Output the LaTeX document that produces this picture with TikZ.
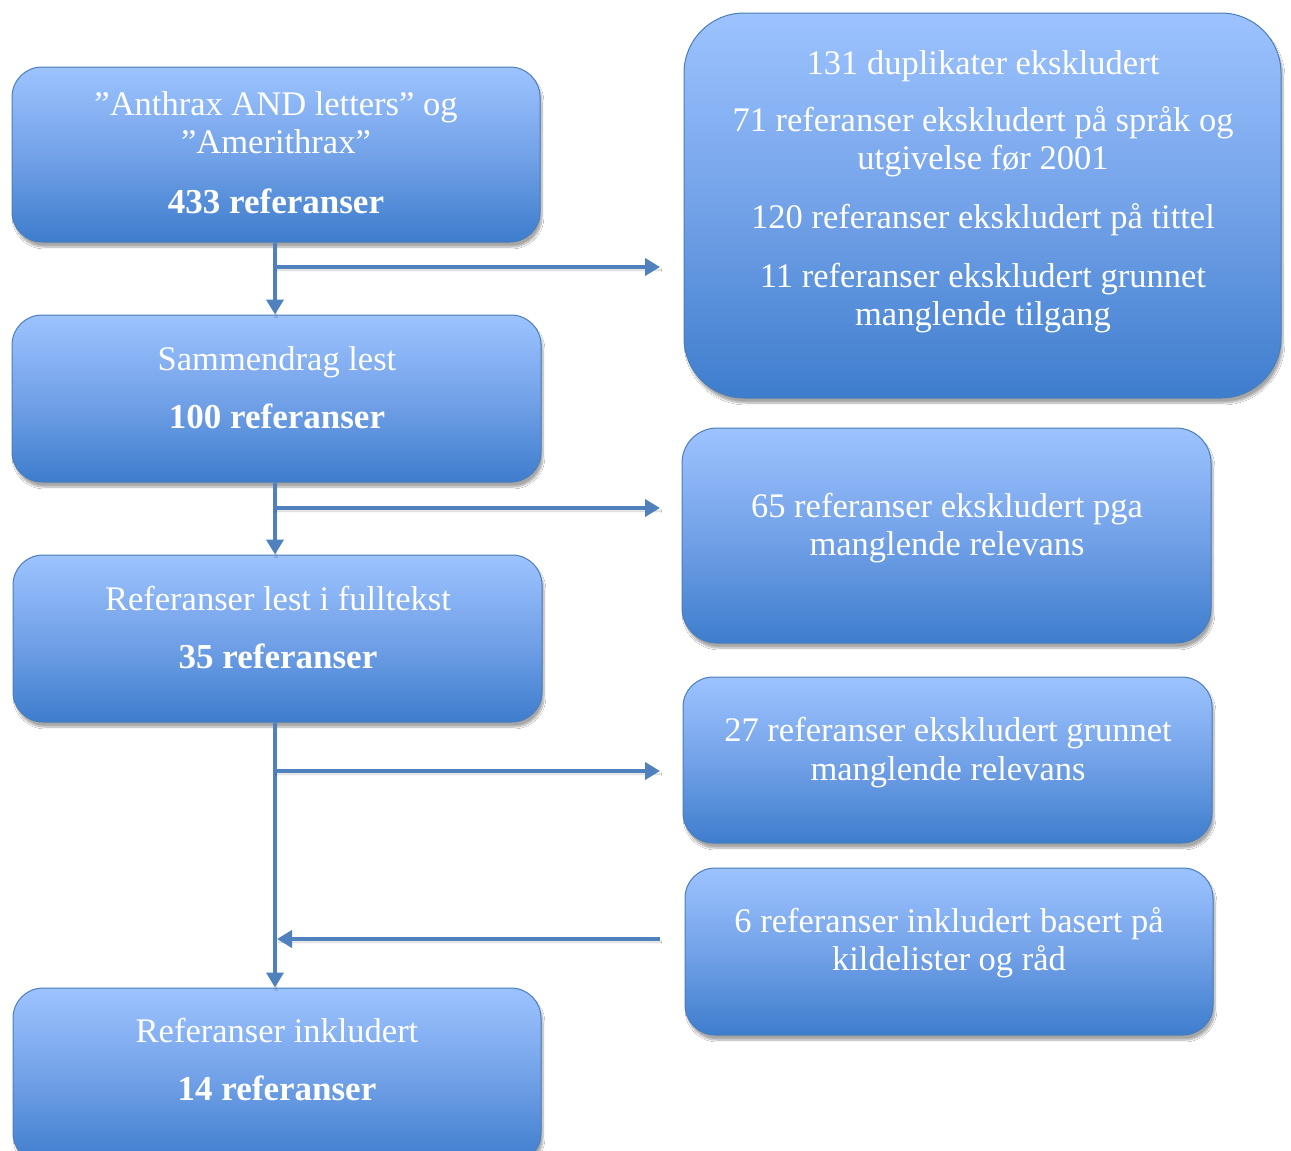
\documentclass[tikz,border=0pt]{standalone}
\usepackage{fontspec}
\setmainfont{Liberation Serif}
\usetikzlibrary{arrows.meta,shadows,shadows.blur}
\definecolor{topblue}{RGB}{157,195,255}
\definecolor{midblue}{RGB}{115,162,232}
\definecolor{botblue}{RGB}{62,125,205}
\definecolor{edgeblue}{RGB}{74,126,187}
\definecolor{arrblue}{RGB}{79,129,189}
\tikzset{
  box/.style={draw=edgeblue, line width=1pt, rectangle, rounded corners=30pt,
    top color=topblue, bottom color=botblue, middle color=midblue,
    blur shadow={shadow xshift=2pt, shadow yshift=-5pt, shadow blur steps=8, shadow opacity=35},
    inner sep=0pt},
  txt/.style={text=white, font=\fontsize{34.5}{40}\selectfont, align=center, inner sep=0pt, anchor=base},
  btxt/.style={txt, font=\fontsize{35}{40}\selectfont\bfseries},
  arr/.style={draw=arrblue, line width=4.5pt, -{Triangle[length=15pt,width=17pt]},
    blur shadow={shadow xshift=1pt, shadow yshift=-3pt, shadow opacity=25}},
  ln/.style={draw=arrblue, line width=4.5pt}
}
\begin{document}
\begin{tikzpicture}[x=1pt,y=-1pt]
\useasboundingbox[fill=white] (0,0) rectangle (1291,1151);
% left boxes
\node[box, minimum width=528pt, minimum height=175pt] (b1) at (276,154.5) {};
\node[box, minimum width=529pt, minimum height=167pt] (b2) at (276.5,398.5) {};
\node[box, minimum width=529pt, minimum height=167pt] (b3) at (277.5,638.5) {};
\node[box, minimum width=528pt, minimum height=175pt] (b4) at (277,1075.5) {};
% right boxes
\node[box, rounded corners=60pt, minimum width=597pt, minimum height=385pt] (r1) at (982.5,205.5) {};
\node[box, rounded corners=35pt, minimum width=529pt, minimum height=215pt] (r2) at (946.5,535.5) {};
\node[box, minimum width=529pt, minimum height=166pt] (r3) at (947.5,760) {};
\node[box, minimum width=528pt, minimum height=167pt] (r4) at (949,951.5) {};
% texts
\node[txt] (t11) at (276,115) {”Anthrax AND letters” og};
\node[txt] (t12) at (276,153) {”Amerithrax”};
\node[btxt] (t13) at (276,213) {433 referanser};
\node[txt] (t21) at (277,370) {Sammendrag lest};
\node[btxt] (t22) at (277,428) {100 referanser};
\node[txt] (t31) at (278,610) {Referanser lest i fulltekst};
\node[btxt] (t32) at (278,668) {35 referanser};
\node[txt] (t41) at (277,1042) {Referanser inkludert};
\node[btxt] (t42) at (277,1100) {14 referanser};
\node[txt] (u1) at (983,74) {131 duplikater ekskludert};
\node[txt] (u2) at (983,131) {71 referanser ekskludert på språk og};
\node[txt] (u3) at (983,169) {utgivelse før 2001};
\node[txt] (u4) at (983,228) {120 referanser ekskludert på tittel};
\node[txt] (u5) at (983,287) {11 referanser ekskludert grunnet};
\node[txt] (u6) at (983,325) {manglende tilgang};
\node[txt] (v1) at (947,517) {65 referanser ekskludert pga};
\node[txt] (v2) at (947,555) {manglende relevans};
\node[txt] (w1) at (948,741) {27 referanser ekskludert grunnet};
\node[txt] (w2) at (948,780) {manglende relevans};
\node[txt] (x1) at (949,932) {6 referanser inkludert basert på};
\node[txt] (x2) at (949,970) {kildelister og råd};
% connector ends
\coordinate (e1) at (660,267);
\coordinate (e2) at (660,508);
\coordinate (e3) at (660,771);
\coordinate (e4) at (660,939);
\coordinate (m4) at (277,939);
% connectors
\draw[arr] (b1.south -| 275,0) -- (b2.north -| 275,0);
\draw[arr] (b1.south |- e1) ++(-1,0) -- (e1);
\draw[arr] (b2.south -| 275,0) -- (b3.north -| 275,0);
\draw[arr] (b2.south |- e2) ++(-2,0) -- (e2);
\draw[arr] (b3.south -| 275,0) -- (b4.north -| 275,0);
\draw[arr] (b3.south |- e3) ++(-3,0) -- (e3);
\draw[arr] (e4) -- (m4);
\end{tikzpicture}
\end{document}
